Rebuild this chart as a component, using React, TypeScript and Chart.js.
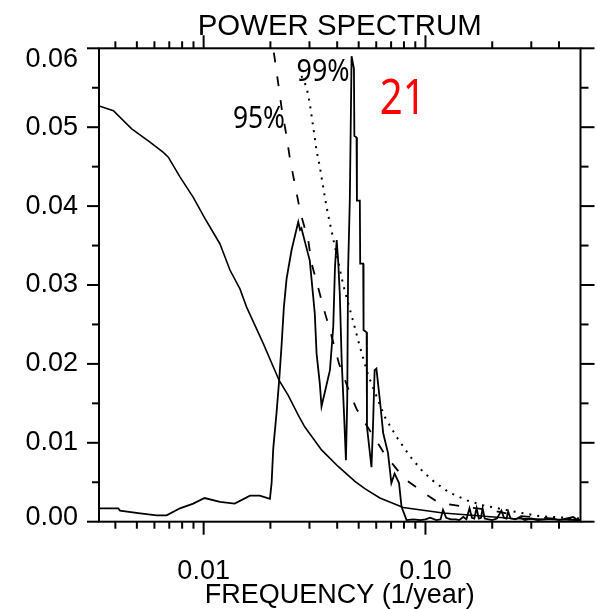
import React, { useEffect, useRef } from 'react';
import { Chart, registerables } from 'chart.js';

Chart.register(...registerables);

// ---- axis ranges & ticks ----
const X_MIN = 0.003375;
const X_MAX = 0.5;
const Y_MIN = 0;
const Y_MAX = 0.06;

const xTickValues = [0.01, 0.1];
const xTickLabels = ['0.01', '0.10'];
const xMinorTicks = [0.004, 0.005, 0.006, 0.007, 0.008, 0.009, 0.02, 0.03, 0.04, 0.05, 0.06, 0.07, 0.08, 0.09, 0.2, 0.3, 0.4];
const yTickValues = [0, 0.01, 0.02, 0.03, 0.04, 0.05, 0.06];
const yTickLabels = ['0.00', '0.01', '0.02', '0.03', '0.04', '0.05', '0.06'];
const yMinorTicks = [0.005, 0.015, 0.025, 0.035, 0.045, 0.055];

const titleText = 'POWER SPECTRUM';
const xAxisTitle = 'FREQUENCY (1/year)';

// ---- background (smooth) spectrum ----
const bgFreq = [0.00338, 0.00392, 0.00474, 0.00573, 0.00658, 0.00693, 0.00782, 0.00898, 0.0101, 0.01185, 0.01314, 0.01458, 0.01562, 0.01856, 0.0219, 0.02406, 0.0267, 0.0286, 0.034, 0.0404, 0.0481, 0.0533, 0.0623, 0.0794, 0.12, 0.248, 0.5];
const bgPower = [0.0527, 0.0521, 0.0498, 0.0481, 0.0468, 0.0462, 0.0437, 0.0411, 0.0385, 0.0352, 0.0319, 0.0295, 0.0272, 0.0226, 0.0179, 0.016, 0.0135, 0.012, 0.0091, 0.007, 0.0051, 0.0042, 0.003, 0.0018, 0.0011, 0.0004, 0.0002];

// ---- observed power spectrum ----
const specFreq = [
  0.00338, 0.00412, 0.0042, 0.00507, 0.00614, 0.00681, 0.00782, 0.00898, 0.0101, 0.01185, 0.0138, 0.0162, 0.0179, 0.0199,
  0.02025, 0.0206, 0.0213, 0.0219, 0.02246, 0.023, 0.02366, 0.0249, 0.0267, 0.0272, 0.0276, 0.0286, 0.0301, 0.0317, 0.0323,
  0.0334, 0.034, 0.0371, 0.0384, 0.0391, 0.0398, 0.0404, 0.0411, 0.0419, 0.043, 0.0438, 0.0444, 0.0448, 0.0456, 0.04645,
  0.0476, 0.0478, 0.0489, 0.0491, 0.0506, 0.0508, 0.0524, 0.0526, 0.0543, 0.0545, 0.0571, 0.058, 0.059, 0.0601, 0.0623,
  0.0645, 0.0678, 0.0702, 0.0726, 0.076, 0.078, 0.0822, 0.088, 0.095, 0.1, 0.105, 0.112, 0.117, 0.12, 0.124, 0.13, 0.137,
  0.142, 0.148, 0.153, 0.158, 0.162, 0.166, 0.17, 0.174, 0.178, 0.181, 0.185, 0.192, 0.2, 0.21, 0.22, 0.226, 0.232, 0.236,
  0.242, 0.255, 0.266, 0.28, 0.3, 0.32, 0.35, 0.376, 0.4, 0.43, 0.463, 0.48, 0.5,
];
const specPower = [
  0.0017, 0.0017, 0.0014, 0.0011, 0.0008, 0.0008, 0.0017, 0.0023, 0.003, 0.0025, 0.0023, 0.0033, 0.0033, 0.0029,
  0.0049, 0.0093, 0.0137, 0.0179, 0.0224, 0.0272, 0.0308, 0.0344, 0.038, 0.037, 0.0372, 0.0355, 0.0331, 0.0264, 0.0213,
  0.0175, 0.0146, 0.0192, 0.0247, 0.0323, 0.0357, 0.0331, 0.0289, 0.0205, 0.0133, 0.0078, 0.0154, 0.0319, 0.0407, 0.059,
  0.0574, 0.0489, 0.0487, 0.0407, 0.0407, 0.0327, 0.0327, 0.0243, 0.024, 0.012, 0.0069, 0.012, 0.0192, 0.0194, 0.0154,
  0.0112, 0.0087, 0.0049, 0.0061, 0.0049, 0.0019, 0.0002, 0.0003, 0.0002, 0.0003, 0.0005, 0.0002, 0.0003, 0.0015, 0.0005, 0.0003, 0.0003,
  0.0002, 0.0006, 0.0003, 0.0017, 0.0005, 0.0004, 0.0017, 0.0004, 0.0005, 0.0017, 0.0004, 0.0003, 0.0002, 0.0004, 0.0014, 0.0005, 0.0004, 0.0013,
  0.0004, 0.0003, 0.0006, 0.0002, 0.0004, 0.0002, 0.0003, 0.0004, 0.0002, 0.0004, 0.0006, 0.0003, 0.0002,
];

// ---- 95% significance (dashed) ----
const sig95Freq = [0.0204, 0.0206, 0.02168, 0.0225, 0.0236, 0.0245, 0.0258, 0.0274, 0.0296, 0.0307, 0.0328, 0.0352, 0.0381, 0.0408, 0.0456, 0.0489, 0.0524, 0.059, 0.065, 0.08, 0.099, 0.112, 0.128, 0.16, 0.202, 0.266, 0.376, 0.5];
const sig95Power = [0.0625, 0.06, 0.0556, 0.0523, 0.049, 0.046, 0.0427, 0.039, 0.0357, 0.0327, 0.0297, 0.0265, 0.0231, 0.02, 0.0163, 0.0143, 0.0129, 0.0106, 0.0087, 0.0055, 0.0036, 0.0026, 0.0022, 0.0018, 0.0014, 0.0007, 0.0004, 0.0002];

// ---- 99% significance (dotted) ----
const sig99Freq = [0.0276, 0.0291, 0.0301, 0.0312, 0.0323, 0.0334, 0.0346, 0.0358, 0.0371, 0.0387, 0.0426, 0.0472, 0.0506, 0.0551, 0.0655, 0.0739, 0.0851, 0.097, 0.11, 0.128, 0.154, 0.181, 0.249, 0.327, 0.43, 0.5];
const sig99Power = [0.0565, 0.0551, 0.053, 0.05, 0.047, 0.045, 0.0424, 0.0399, 0.0378, 0.0354, 0.03, 0.0254, 0.0222, 0.0186, 0.0133, 0.0108, 0.0083, 0.0064, 0.005, 0.0037, 0.0027, 0.0021, 0.0013, 0.0007, 0.0005, 0.0004];

// ---- text annotations (anchored in data coordinates: left edge, baseline) ----
const annotTexts = ['99%', '95%', '21'];
const annotFreq = [0.02625, 0.01355, 0.0623];
const annotPower = [0.0559, 0.04996, 0.0517];
const annotColors = ['#000000', '#000000', '#ff0000'];
const annotSizes = [30, 30, 49];
const annotWidths = [53, 52, 46];

const toPoints = (xs: number[], ys: number[]) => xs.map((x, i) => ({ x, y: ys[i] }));

function drawFitted(ctx: CanvasRenderingContext2D, text: string, x: number, baseline: number, font: string, targetW: number, align: 'left' | 'center') {
  ctx.font = font;
  const w = ctx.measureText(text).width;
  const s = targetW / w;
  ctx.save();
  ctx.translate(x, baseline);
  ctx.scale(s, 1);
  ctx.textAlign = align;
  ctx.textBaseline = 'alphabetic';
  ctx.fillText(text, 0, 0);
  ctx.restore();
}

const framePlugin = {
  id: 'idlFrame',
  afterDraw(chart: any) {
    const { ctx, chartArea: a, scales } = chart;
    const xs = scales.x;
    const ys = scales.y;
    ctx.save();
    ctx.strokeStyle = '#000';
    ctx.fillStyle = '#000';
    ctx.lineWidth = 2;
    ctx.strokeRect(a.left, a.top, a.right - a.left, a.bottom - a.top);
    const line = (x1: number, y1: number, x2: number, y2: number) => {
      ctx.beginPath();
      ctx.moveTo(x1, y1);
      ctx.lineTo(x2, y2);
      ctx.stroke();
    };
    xTickValues.forEach((v) => {
      const p = xs.getPixelForValue(v);
      line(p, a.bottom, p, a.bottom + 13);
      line(p, a.top, p, a.top - 13);
    });
    xMinorTicks.forEach((v) => {
      const p = xs.getPixelForValue(v);
      line(p, a.bottom, p, a.bottom + 7);
      line(p, a.top, p, a.top - 7);
    });
    yTickValues.forEach((v) => {
      const p = ys.getPixelForValue(v);
      line(a.left - 12, p, a.left, p);
      line(a.right, p, a.right + 14, p);
    });
    yMinorTicks.forEach((v) => {
      const p = ys.getPixelForValue(v);
      line(a.left - 7, p, a.left, p);
      line(a.right, p, a.right + 8, p);
    });

    // end labels of the y axis (shifted inward, as in the original)
    ctx.font = '27px "Liberation Sans", Arial, sans-serif';
    ctx.textAlign = 'right';
    ctx.textBaseline = 'alphabetic';
    ctx.fillText(yTickLabels[6], a.left - 21, ys.getPixelForValue(Y_MAX) + 18.5);
    ctx.fillText(yTickLabels[0], a.left - 21, ys.getPixelForValue(Y_MIN) + 3.3);

    // title
    drawFitted(ctx, titleText, (a.left + a.right) / 2, a.top - 13.3, '30px "Liberation Sans", Arial, sans-serif', 284, 'center');

    // annotations
    annotTexts.forEach((t, i) => {
      ctx.fillStyle = annotColors[i];
      drawFitted(ctx, t, xs.getPixelForValue(annotFreq[i]), ys.getPixelForValue(annotPower[i]), `${annotSizes[i]}px "Noto Sans", sans-serif`, annotWidths[i], 'left');
    });
    ctx.restore();
  },
};

export default function App() {
  const ref = useRef<HTMLCanvasElement>(null);
  useEffect(() => {
    const canvas = ref.current;
    if (!canvas) return;
    const chart = new Chart(canvas, {
      type: 'line',
      data: {
        datasets: [
          { label: 'background', data: toPoints(bgFreq, bgPower), borderColor: '#000', borderWidth: 1.6, pointRadius: 0, tension: 0, fill: false },
          { label: '95%', data: toPoints(sig95Freq, sig95Power), borderColor: '#000', borderWidth: 1.8, borderDash: [10, 14], pointRadius: 0, tension: 0, fill: false },
          { label: '99%', data: toPoints(sig99Freq, sig99Power), borderColor: '#000', borderWidth: 2, borderDash: [2, 6], pointRadius: 0, tension: 0, fill: false },
          { label: 'spectrum', data: toPoints(specFreq, specPower), borderColor: '#000', borderWidth: 1.8, pointRadius: 0, tension: 0, fill: false },
        ],
      },
      options: {
        responsive: false,
        animation: false,
        events: [],
        layout: { padding: { top: 48.3, right: 16.5, left: 0, bottom: 0 } },
        plugins: { legend: { display: false }, tooltip: { enabled: false }, title: { display: false } },
        scales: {
          x: {
            type: 'logarithmic',
            min: X_MIN,
            max: X_MAX,
            afterFit: (s: any) => { s.height = 87.3; },
            afterBuildTicks: (s: any) => { s.ticks = xTickValues.map((value) => ({ value })); },
            grid: { display: false, drawTicks: false },
            border: { display: false },
            ticks: {
              autoSkip: false,
              maxRotation: 0,
              padding: 34,
              color: '#000',
              font: { family: '"Liberation Sans", Arial, sans-serif', size: 27 },
              callback: (_v: any, i: number) => xTickLabels[i],
            },
            title: {
              display: true,
              text: xAxisTitle,
              color: '#000',
              padding: { top: 0, bottom: -3 },
              font: { family: '"Liberation Sans", Arial, sans-serif', size: 27 },
            },
          },
          y: {
            type: 'linear',
            min: Y_MIN,
            max: Y_MAX,
            afterFit: (s: any) => { s.width = 99; },
            afterBuildTicks: (s: any) => { s.ticks = yTickValues.map((value) => ({ value })); },
            grid: { display: false, drawTicks: false },
            border: { display: false },
            ticks: {
              padding: 21,
              color: '#000',
              font: { family: '"Liberation Sans", Arial, sans-serif', size: 27 },
              callback: (_v: any, i: number) => (i === 0 || i === yTickValues.length - 1 ? '' : yTickLabels[i]),
            },
          },
        },
      },
      plugins: [framePlugin],
    } as any);
    return () => chart.destroy();
  }, []);
  return (
    <div style={{ position: 'fixed', left: 0, top: 0, width: 597, height: 609, background: '#fff' }}>
      <canvas ref={ref} width={597} height={609} style={{ width: 597, height: 609, display: 'block' }} />
    </div>
  );
}
